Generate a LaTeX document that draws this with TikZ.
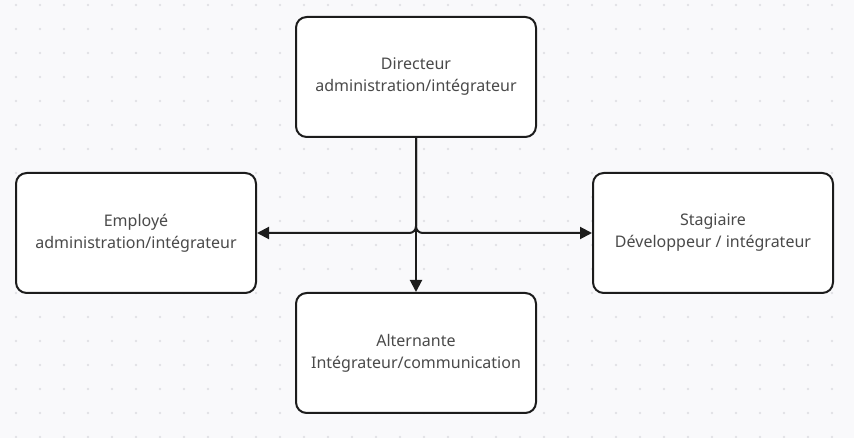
\documentclass[tikz,border=0pt]{standalone}
\usepackage{fontspec}
\setmainfont{Noto Sans}
\usetikzlibrary{arrows.meta}
\definecolor{fond}{HTML}{F9F9FB}
\definecolor{point}{HTML}{E1E1E5}
\definecolor{texte}{HTML}{4A4A4A}
\definecolor{trait}{HTML}{1C1C1C}
\tikzstyle{poste}=[draw=trait,line width=1.5pt,fill=white,rounded corners=8pt,minimum width=180pt,minimum height=90pt,text=texte,align=center,font=\fontsize{12}{16.5}\selectfont]
\tikzstyle{lien}=[line width=1.5pt,draw=trait,-{Triangle[length=9pt,width=9pt]},rounded corners=5pt]

\begin{document}
\begin{tikzpicture}[x=0.75pt,y=-0.75pt]
  \useasboundingbox (0,0) rectangle (854,438);
  \fill[fond] (0,0) rectangle (854,438);
  % grille de points
  \foreach \i in {0,...,34}
    \foreach \j in {0,...,18}
      \fill[point] (16+24*\i,5+24*\j) circle[radius=1.1pt];

  \node[poste] (dir) at (416,77) {Directeur\\administration/intégrateur};
  \node[poste] (emp) at (136,233) {Employé\\administration/intégrateur};
  \node[poste] (sta) at (713,233) {Stagiaire\\Développeur / intégrateur};
  \node[poste] (alt) at (416,353) {Alternante\\Intégrateur/communication};

  \draw[lien] (dir.south) -- (alt.north);
  \draw[lien] (dir.south) |- (emp.east);
  \draw[lien] (dir.south) |- (sta.west);
\end{tikzpicture}
\end{document}
